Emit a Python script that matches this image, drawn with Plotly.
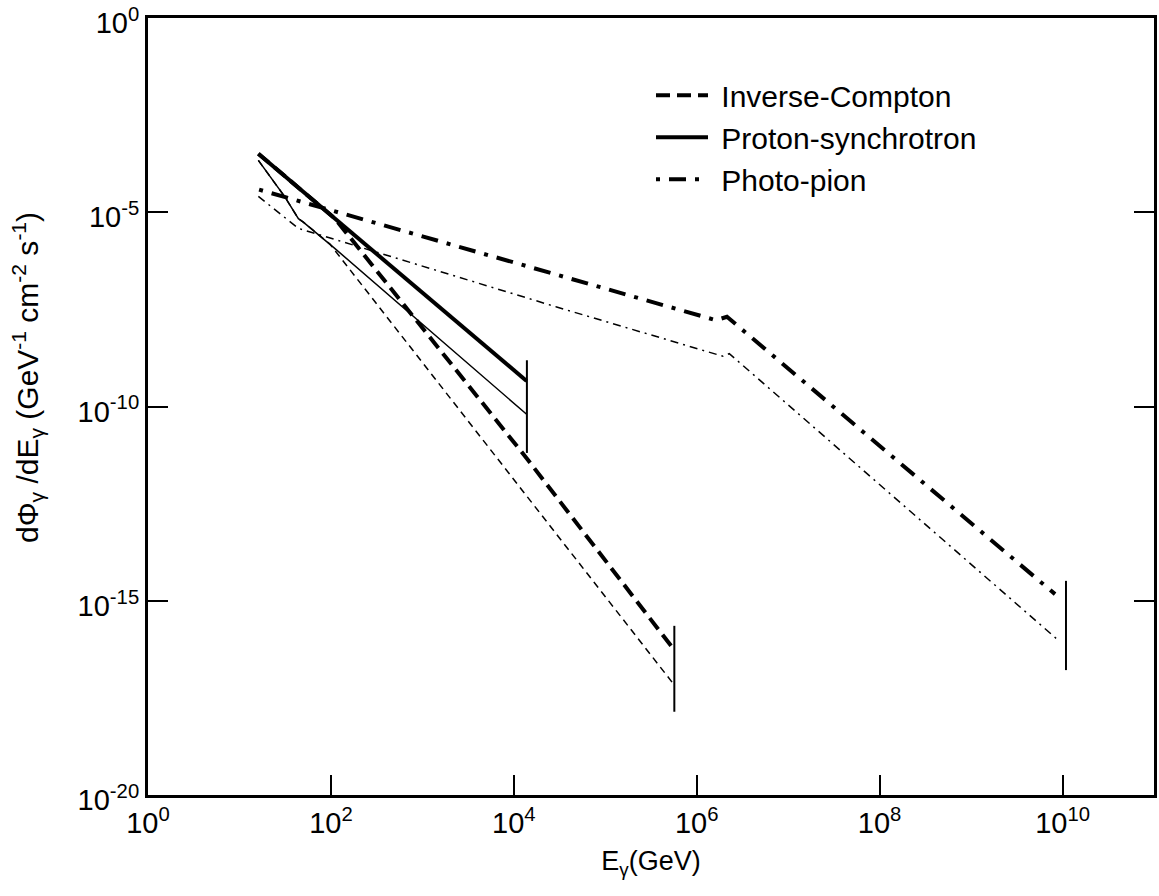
import plotly.graph_objects as go

# ---- data ----
# Inverse-Compton
ic_thick_E = [16.1, 110.9, 1.38e4, 5.69e5]
ic_thick_F = [3.21e-4, 6.84e-6, 4.67e-12, 5.37e-17]
ic_thin_E = [16.1, 31.5, 44.1, 49.9, 97.7, 6.50e3, 5.69e5]
ic_thin_F = [2.16e-4, 2.45e-5, 6.84e-6, 5.58e-6, 1.51e-6, 4.67e-12, 6.76e-18]
ic_cut_E = [5.69e5, 5.69e5]
ic_cut_F = [2.26e-16, 1.39e-18]

# Proton-synchrotron
ps_thick_E = [16.1, 1.38e4]
ps_thick_F = [3.21e-4, 4.54e-10]
ps_thin_E = [16.1, 31.5, 44.1, 49.9, 110.9, 1.38e4]
ps_thin_F = [2.16e-4, 2.45e-5, 6.84e-6, 5.58e-6, 1.16e-6, 6.32e-11]
ps_cut_E = [1.39e4, 1.39e4]
ps_cut_F = [1.55e-9, 6.38e-12]

# Photo-pion
pp_thick_E = [16.4, 2.94e4, 1.63e6, 2.14e6, 8.28e9]
pp_thick_F = [3.81e-5, 2.52e-7, 1.66e-8, 2.04e-8, 1.48e-15]
pp_thin_E = [16.1, 44.1, 2.94e4, 1.94e6, 2.27e6, 8.77e9]
pp_thin_F = [2.56e-5, 3.85e-6, 3.64e-8, 1.96e-9, 2.30e-9, 1.01e-16]
pp_cut_E = [1.09e10, 1.09e10]
pp_cut_F = [3.25e-15, 1.64e-17]

x_tickvals = [1, 1e2, 1e4, 1e6, 1e8, 1e10]
x_ticktext = ["10<sup>0</sup>", "10<sup>2</sup>", "10<sup>4</sup>", "10<sup>6</sup>",
              "10<sup>8</sup>", "10<sup>10</sup>"]
y_tickvals = [1, 1e-5, 1e-10, 1e-15, 1e-20]
y_ticktext = ["10<sup>0</sup>", "10<sup>-5</sup>", "10<sup>-10</sup>", "10<sup>-15</sup>",
              "10<sup>-20</sup>"]

FONT = "Liberation Sans, Arial, Helvetica, sans-serif"
BLACK = "#000000"
NB = "\u00a0"

fig = go.Figure()

def add(x, y, width, dash, name=None, legend=False):
    fig.add_trace(go.Scatter(
        x=x, y=y, mode="lines", name=name, showlegend=legend,
        line=dict(color=BLACK, width=width, dash=dash),
        hoverinfo="skip"))

add(ic_thick_E, ic_thick_F, 4, "14px,7px", NB + "Inverse-Compton", True)
add(ps_thick_E, ps_thick_F, 4, "solid", NB + "Proton-synchrotron", True)
add(pp_thick_E, pp_thick_F, 4, "4px,9px,17px,9px", NB + "Photo-pion", True)
add(ic_thin_E, ic_thin_F, 1.5, "7px,5px")
add(ps_thin_E, ps_thin_F, 1.5, "solid")
add(pp_thin_E, pp_thin_F, 1.5, "8px,5px,2px,5px")
add(ic_cut_E, ic_cut_F, 2, "solid")
add(ps_cut_E, ps_cut_F, 2, "solid")
add(pp_cut_E, pp_cut_F, 2, "solid")

fig.update_layout(
    width=1159, height=896,
    margin=dict(l=148, r=5, t=18, b=101, autoexpand=False),
    paper_bgcolor="white", plot_bgcolor="white",
    font=dict(family=FONT, color=BLACK, size=26),
    legend=dict(x=0.5, y=0.934, xanchor="left", yanchor="top",
                font=dict(size=30, family=FONT), itemwidth=52,
                bgcolor="rgba(0,0,0,0)", tracegroupgap=0),
    annotations=[dict(
        text="dΦ<sub>γ</sub> /dE<sub>γ</sub> (GeV<sup>-1</sup> cm<sup>-2</sup> s<sup>-1</sup>)",
        xref="paper", yref="paper", x=-0.12, y=0.537, xanchor="center", yanchor="middle",
        textangle=-90, showarrow=False, font=dict(size=30, family=FONT, color=BLACK))],
)
fig.update_xaxes(
    type="log", range=[0, 11], tickvals=x_tickvals, ticktext=x_ticktext,
    ticks="inside", ticklen=20, tickwidth=1.5, tickcolor=BLACK,
    showline=True, linewidth=3, linecolor=BLACK, mirror=True,
    showgrid=False, zeroline=False, tickfont=dict(size=29, family=FONT),
    ticklabeloverflow="allow", automargin=False,
    title=dict(text="E<sub>γ</sub>(GeV)", font=dict(size=27, family=FONT), standoff=14),
)
fig.update_yaxes(
    type="log", range=[-20, 0], tickvals=y_tickvals, ticktext=y_ticktext,
    ticks="inside", ticklen=20, tickwidth=1.5, tickcolor=BLACK,
    showline=True, linewidth=3, linecolor=BLACK, mirror="ticks",
    showgrid=False, zeroline=False, tickfont=dict(size=29, family=FONT),
    ticklabeloverflow="allow", automargin=False, ticklabelshift=5,
)

fig.write_html("out.html")
